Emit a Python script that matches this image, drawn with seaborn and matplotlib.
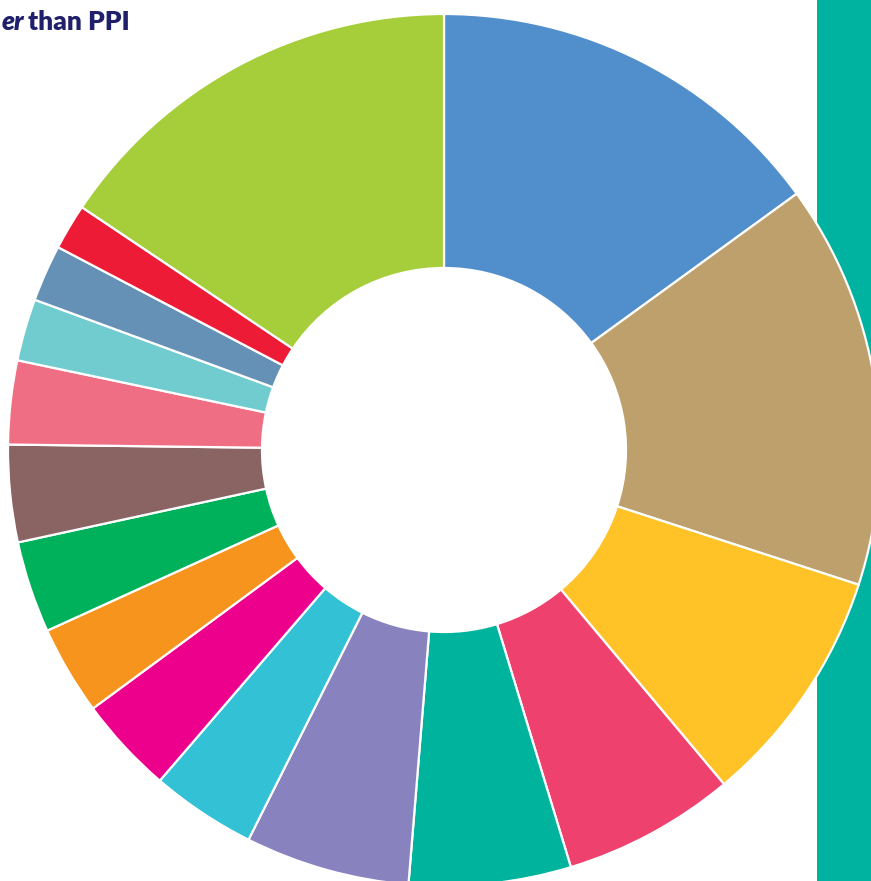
import numpy as np
import matplotlib
matplotlib.use('Agg')
import matplotlib.pyplot as plt
import seaborn as sns

# share of each segment (%), clockwise from 12 o'clock
segments = ['S1', 'S2', 'S3', 'S4', 'S5', 'S6', 'S7', 'S8',
            'S9', 'S10', 'S11', 'S12', 'S13', 'S14', 'S15', 'S16']
shares = [15.0, 15.0, 8.9, 6.4, 6.0, 6.1, 3.9, 3.6,
          3.3, 3.4, 3.6, 3.1, 2.3, 2.1, 1.7, 15.6]
colors = ['#508FCC', '#BDA06B', '#FFC328', '#EE416E', '#00B39C', '#8882BE',
          '#33C1D6', '#EC008C', '#F7941E', '#00B15C', '#8A6363', '#F06E83',
          '#71CCD0', '#6591B7', '#EE1B36', '#A6CE3A']

sns.set_theme(style='white')
plt.rcParams['font.family'] = ['Lato', 'DejaVu Sans']

W, H = 871, 881
fig = plt.figure(figsize=(W / 100, H / 100), dpi=100)
ax = fig.add_axes([0, 0, 1, 1])

# teal band behind the donut on the right
ax.axvspan(817, W, color='#00B3A0', zorder=0, lw=0)

ax.pie(shares, colors=sns.color_palette(colors), startangle=90, counterclock=False,
       center=(444, H - 450), radius=436,
       wedgeprops=dict(width=254, edgecolor='white', linewidth=1.6),
       frame=True)
ax.set_xlim(0, W)
ax.set_ylim(0, H)
ax.set_aspect('equal')
ax.axis('off')

navy = '#1F1F6B'
ax.text(24, H - 30, 'er', fontsize=19, fontweight='heavy', fontstyle='italic',
        color=navy, ha='right', va='baseline')
ax.text(28, H - 30, 'than PPI', fontsize=19, fontweight='heavy',
        color=navy, ha='left', va='baseline')

fig.savefig('out.png', dpi=100)
